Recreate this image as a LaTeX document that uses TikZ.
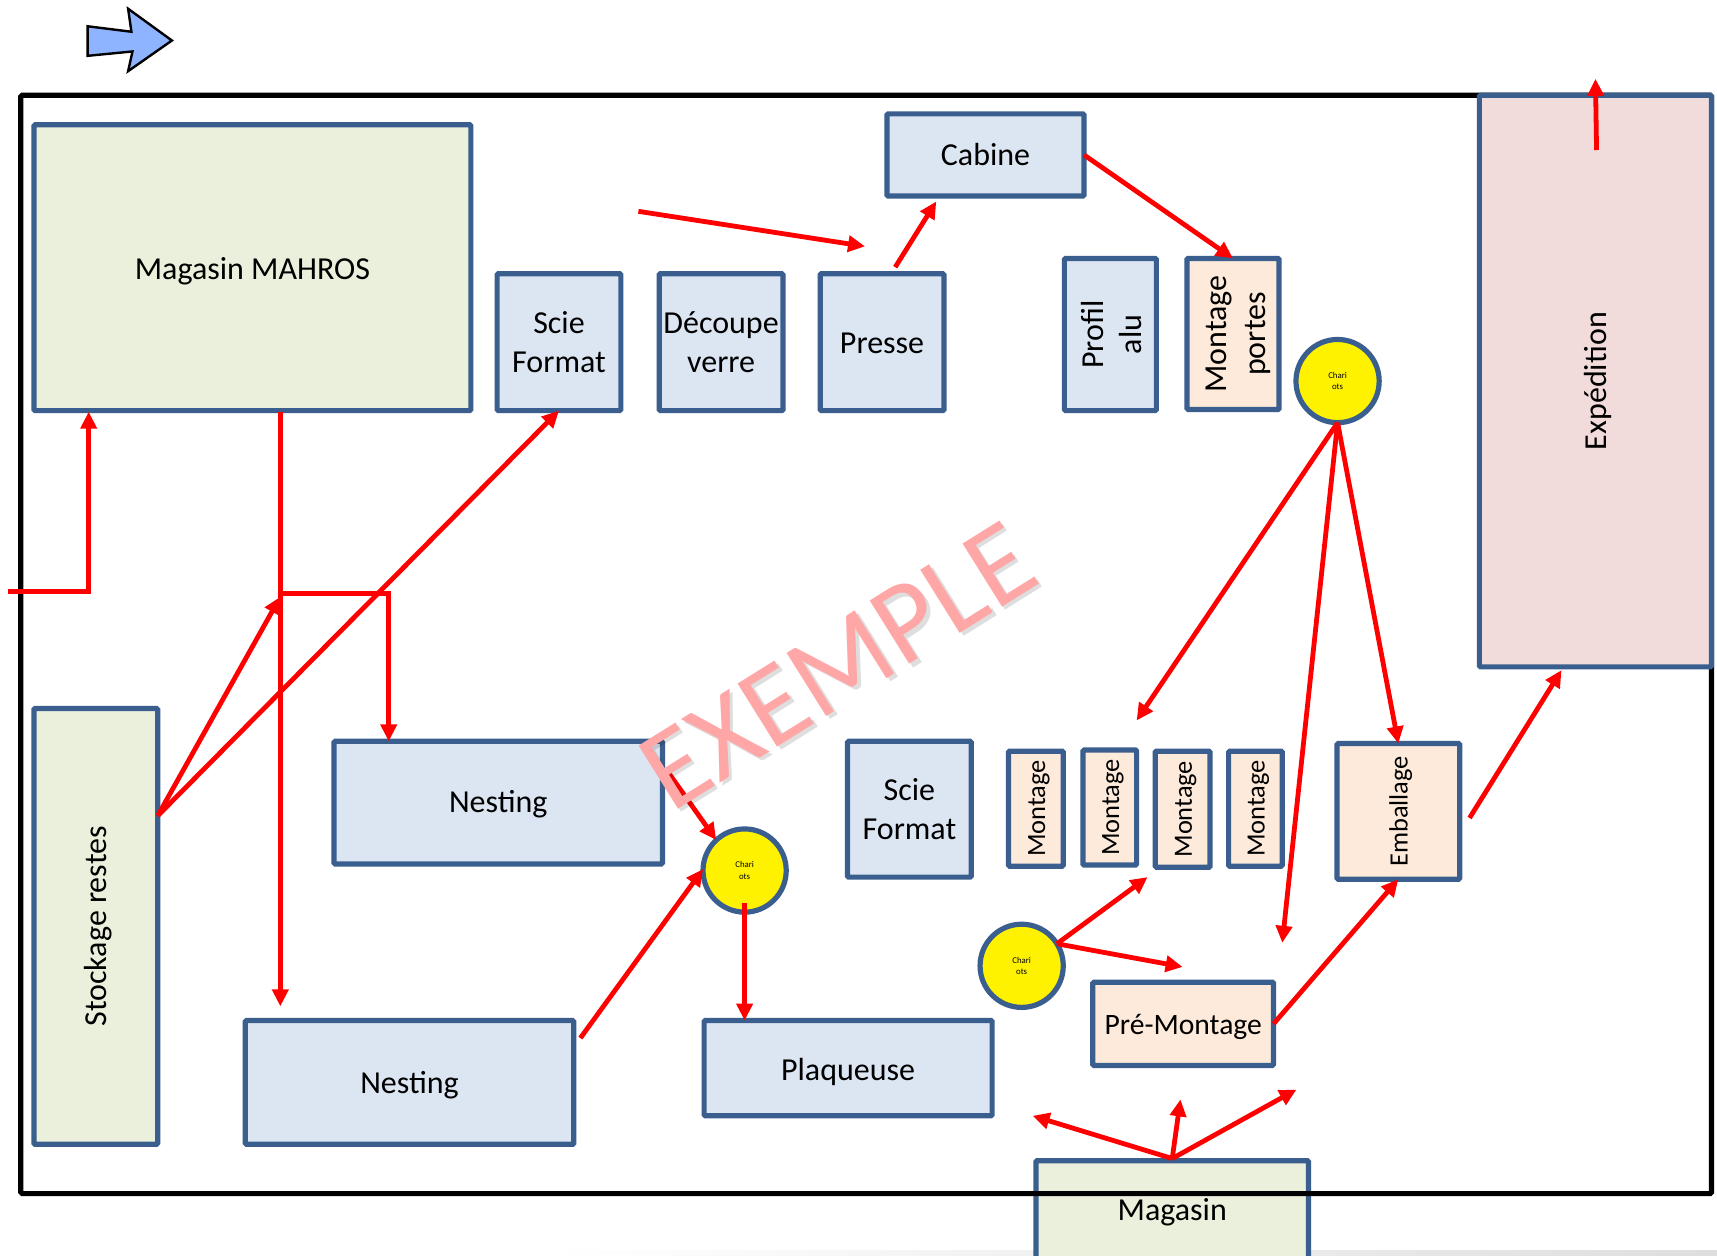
\documentclass[tikz,border=0pt]{standalone}
\usepackage{fontspec}
\usepackage{graphicx}
\setmainfont{Carlito}
\usetikzlibrary{arrows.meta,calc}
\definecolor{edgeblue}{HTML}{3A5F8E}
\definecolor{fillblue}{HTML}{DCE6F2}
\definecolor{fillgreen}{HTML}{EBF0DD}
\definecolor{fillpeach}{HTML}{FDEADA}
\definecolor{fillpink}{HTML}{F2DCDB}
\definecolor{markblue}{HTML}{8FB4FF}
\definecolor{stamp}{HTML}{FFA6A6}
\newcommand{\fs}[1]{\fontsize{#1}{19.2}\selectfont}
\newcommand{\bx}[7]{%
  \pgfmathsetlengthmacro\bw{(#5-#3)*0.54751pt}%
  \pgfmathsetlengthmacro\bh{(#6-#4)*0.54751pt}%
  \node[room,#2,minimum width=\bw,minimum height=\bh] (#1) at ({(#3+#5)/2},{(#4+#6)/2}) {#7};}
\newcommand{\vt}[2][-1.7pt]{\rotatebox{90}{\raisebox{#1}[\height][\depth]{\begin{tabular}{@{}c@{}}#2\end{tabular}}}}
\newcommand{\dn}[2][-1.6pt]{\raisebox{#1}[\height][\depth]{#2}}
\tikzset{
  room/.style={draw=edgeblue,line width=2.6pt,rounded corners=0.6pt,outer sep=0pt,inner sep=0pt,align=center,text=black,font=\fs{16}},
  blueroom/.style={fill=fillblue},
  greenroom/.style={fill=fillgreen},
  peachroom/.style={fill=fillpeach},
  pinkroom/.style={fill=fillpink},
  small/.style={font=\fs{13.2}},
  cart/.style={circle,draw=edgeblue,line width=2.6pt,fill=yellow,outer sep=0pt,inner sep=0pt,minimum size=41.6pt,align=center,font=\fontsize{4.4}{5.6}\selectfont},
  flow/.style={draw=red,line width=2.4pt,-{Triangle[length=8.5pt,width=8pt]}},
}
\begin{document}
\begin{tikzpicture}[x=0.54751pt,y=-0.54751pt]
\useasboundingbox (0,0) rectangle (1568,1147);
\fill[white] (0,0) rectangle (1568,1147);
\shade[left color=white,right color=black!13,draw=none] (500,1142) rectangle (1568,1147);

% orientation mark
\draw[fill=markblue,draw=black,line width=1.2pt,line join=miter]
  (80,24) -- (120,29) -- (117,8) -- (157,37) -- (117,65) -- (121,47) -- (80,51) -- cycle;

% the store that straddles the frame lies under it
\bx{mag}{greenroom}{946}{1060}{1195}{1160}{}
\node[font=\fs{16},inner sep=0pt] (magtxt) at (1070.5,1107) {Magasin};

% outer frame
\node[draw=black,line width=2.6pt,rounded corners=0.8pt,outer sep=0pt,inner sep=0pt,minimum width=845.4pt,minimum height=549.2pt] (frame) at (791,588.5) {};

\bx{mahros}{greenroom}{31}{114}{430}{375}{\dn{Magasin MAHROS}}
\bx{scieA}{blueroom}{454}{250}{567}{375}{Scie\\Format}
\bx{decoupe}{blueroom}{602}{250}{715}{375}{Découpe\\verre}
\bx{presse}{blueroom}{749}{250}{862}{375}{\dn[-0.5pt]{Presse}}
\bx{cabine}{blueroom}{810}{104}{990}{179}{\dn[0pt]{Cabine}}
\bx{profil}{blueroom}{972}{236}{1056}{375}{\vt[-2.3pt]{Profil\\alu}}
\bx{portes}{peachroom}{1084}{236}{1168}{374}{\vt[-2.6pt]{Montage\\portes}}
\bx{expe}{pinkroom}{1351}{87}{1563}{609}{\vt{Expédition}}
\bx{stock}{greenroom}{31}{647}{144}{1045}{\vt{Stockage restes}}
\bx{nestA}{blueroom}{305}{677}{605}{789}{\dn[-1pt]{Nesting}}
\bx{nestB}{blueroom}{224}{932}{524}{1045}{\dn{Nesting}}
\bx{plaq}{blueroom}{643}{932}{906}{1019}{\dn[-2.1pt]{Plaqueuse}}
\bx{scieB}{blueroom}{774}{677}{887}{801}{Scie\\Format}
\bx{montA}{peachroom,small}{921}{686}{971}{791}{\vt[-0.8pt]{Montage}}
\bx{montB}{peachroom,small}{989}{685}{1038}{790}{\vt[-0.8pt]{Montage}}
\bx{montC}{peachroom,small}{1055}{686}{1105}{792}{\vt[-0.8pt]{Montage}}
\bx{montD}{peachroom,small}{1122}{686}{1171}{791}{\vt[-0.8pt]{Montage}}
\bx{emb}{peachroom,small}{1221}{679}{1333}{803}{\vt[-0.8pt]{Emballage}}
\bx{pre}{peachroom}{998}{897}{1163}{973}{\fontsize{14.8}{18}\selectfont\dn{Pré-Montage}}

\node[cart] (cartA) at (1221.5,348) {Chari\\ots};
\node[cart] (cartB) at (680,795) {Chari\\ots};
\node[cart] (cartC) at (933,882) {Chari\\ots};

% free ends of connectors
\coordinate (inlet) at (7,540);
\coordinate (inbend) at (81,540);
\coordinate (intoPress) at (583,193);
\coordinate (pressEnd) at (790,225);
\coordinate (outTop) at (1457,72);
\coordinate (outBase) at (1458,137);
\coordinate (joinA) at (256,545);
\coordinate (joinB) at (256,542);
\coordinate (joinC) at (355,542);
\coordinate (nestBtop) at (256,919);
\coordinate (montEnd) at (1038,658);
\coordinate (preEnd) at (1171,861);
\coordinate (embOut) at (1342,747);
\coordinate (expeIn) at (1426,612);
\coordinate (cartCup) at (1048,801);
\coordinate (cartCright) at (1080,883);
\coordinate (magL) at (943,1019);
\coordinate (magM) at (1078,1004);
\coordinate (magR) at (1184,995);
\coordinate (nestAout) at (610,705);
\coordinate (nestBout) at (530,948);

% connectors
\draw[flow] (intoPress) -- (pressEnd);
\draw[flow] ([shift={(12,-6)}]presse.north) -- ([shift={(-45,5)}]cabine.south);
\draw[flow] (cabine.east) -- (portes.north);
\draw[flow] (outBase) -- (outTop);
\draw[flow] (inlet) -- (inbend) -- ([shift={(-149.5,1)}]mahros.south);
\draw[flow] ([shift={(25.5,1)}]mahros.south) -- (nestBtop);
\draw[flow] ([shift={(0,-101)}]stock.east) -- (joinA);
\draw[flow] ([shift={(0,-101)}]stock.east) -- (scieA.south);
\draw[flow] (joinB) -- (joinC) -- ([shift={(-100,0)}]nestA.north);
\draw[flow] (nestAout) -- (cartB.133);
\draw[flow] (nestBout) -- (cartB.178);
\draw[flow] ([shift={(0,-8)}]cartB.south) -- ([shift={(-94.5,0)}]plaq.north);
\draw[flow] (cartA.south) -- (montEnd);
\draw[flow] (cartA.south) -- (preEnd);
\draw[flow] (cartA.south) -- (emb.north);
\draw[flow] (embOut) -- (expeIn);
\draw[flow] (cartC.32) -- (cartCup);
\draw[flow] (cartC.32) -- (cartCright);
\draw[flow] (pre.east) -- (emb.south);
\draw[flow] ([shift={(0,-2)}]mag.north) -- (magL);
\draw[flow] ([shift={(0,-2)}]mag.north) -- (magM);
\draw[flow] ([shift={(0,-2)}]mag.north) -- (magR);

% watermark
\node[rotate=32,text=black,opacity=.13,inner sep=0pt,font=\fontsize{58}{64}\selectfont] (stampshadow) at (768,611) {EXEMPLE};
\node[rotate=32,text=stamp,inner sep=0pt,font=\fontsize{58}{64}\selectfont] (stamptext) at (765,608) {EXEMPLE};
\end{tikzpicture}
\end{document}
